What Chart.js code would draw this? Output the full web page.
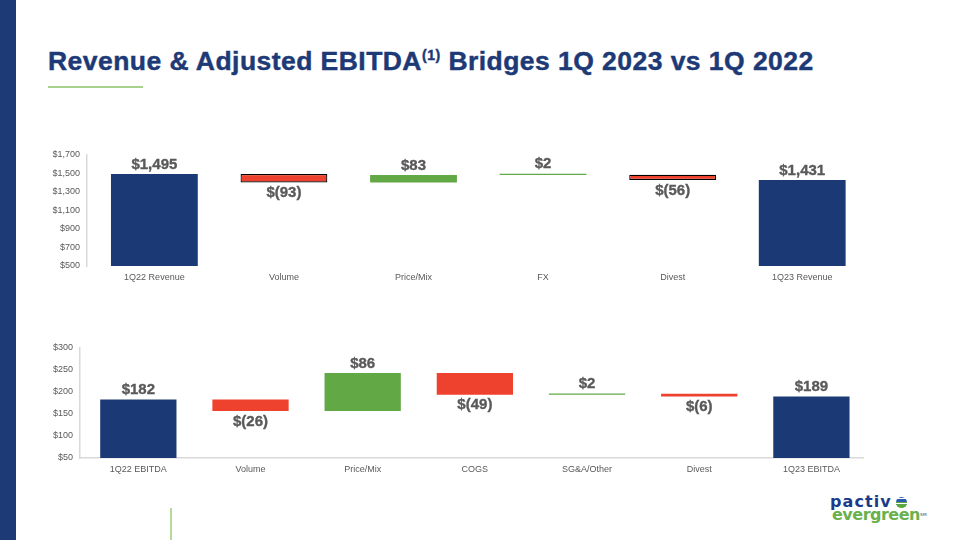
<!DOCTYPE html>
<html>
<head>
<meta charset="utf-8">
<script src="https://cdn.jsdelivr.net/npm/chart.js@4/dist/chart.umd.min.js"></script>
<style>
  html,body{margin:0;padding:0;background:#fff;}
  body{width:960px;height:540px;position:relative;overflow:hidden;font-family:"Liberation Sans",Arial,sans-serif;}
  #sidebar{position:absolute;left:0;top:0;width:16px;height:540px;background:#1d3a76;}
  #title{position:absolute;left:48px;top:46px;font-size:26.5px;font-weight:bold;color:#1d3a76;white-space:nowrap;letter-spacing:0.45px;-webkit-text-stroke:0.45px #1d3a76;}
  #title sup{font-size:14px;position:relative;top:2px;vertical-align:top;line-height:1;letter-spacing:0.5px;}
  #rule{position:absolute;left:48px;top:86px;width:95px;height:2px;background:#a9d18e;}
  #vline{position:absolute;left:170px;top:508px;width:1.5px;height:32px;background:#b8d99c;}
  #c1{position:absolute;left:20px;top:140px;}
  #c2{position:absolute;left:20px;top:335px;}
  .lg{position:absolute;font-family:"DejaVu Sans",sans-serif;font-weight:bold;font-size:16px;line-height:16px;white-space:nowrap;}
  #lp{left:830px;top:494px;color:#1d3a8a;letter-spacing:1.1px;}
  #le{left:832px;top:507px;color:#6ab04c;letter-spacing:-0.5px;}
  #le .tm{font-size:4px;vertical-align:top;letter-spacing:0;color:#888;}
  #licon{position:absolute;left:896px;top:497px;width:11px;height:11px;border-radius:50%;
    background:repeating-linear-gradient(180deg,#2a5bb0 0 1.4px,#fff 1.4px 2.2px);}
  #licon:after{content:"";position:absolute;left:0;top:5px;width:11px;height:6px;border-radius:0 0 6px 6px;
    background:repeating-linear-gradient(180deg,#5aa840 0 1.4px,#fff 1.4px 2.2px);}
</style>
</head>
<body>
<div id="sidebar"></div>
<div id="title">Revenue &amp; Adjusted EBITDA<sup>(1)</sup> Bridges 1Q 2023 vs 1Q 2022</div>
<div id="rule"></div>
<canvas id="c1" width="850" height="150"></canvas>
<canvas id="c2" width="850" height="150"></canvas>
<div id="vline"></div>
<div class="lg" id="lp">pactiv</div>
<div id="licon"></div>
<div class="lg" id="le">evergreen<span class="tm">SM</span></div>
<script>
// ---- Data ----
const revCategories = ['1Q22 Revenue', 'Volume', 'Price/Mix', 'FX', 'Divest', '1Q23 Revenue'];
const revValues = [1495, -93, 83, 2, -56, 1431];
const revIsTotal = [true, false, false, false, false, true];
const revTicks = [500, 700, 900, 1100, 1300, 1500, 1700];

const ebitdaCategories = ['1Q22 EBITDA', 'Volume', 'Price/Mix', 'COGS', 'SG&A/Other', 'Divest', '1Q23 EBITDA'];
const ebitdaValues = [182, -26, 86, -49, 2, -6, 189];
const ebitdaIsTotal = [true, false, false, false, false, false, true];
const ebitdaTicks = [50, 100, 150, 200, 250, 300];

// ---- Style ----
const BLUE = '#1b3a75', RED = '#ee412e', GREEN = '#62a844', GREY = '#595959', AXIS = '#d9d9d9';

function buildFloating(values, isTotal, base) {
  let run = 0;
  return values.map((v, i) => {
    if (isTotal[i]) { run = v; return [base, v]; }
    const s = run; run += v; return [s, run];
  });
}
function colorsFor(values, isTotal) {
  return values.map((v, i) => isTotal[i] ? BLUE : (v < 0 ? RED : GREEN));
}
function fmt(v) {
  const s = Math.abs(v).toLocaleString('en-US');
  return v < 0 ? '$(' + s + ')' : '$' + s;
}

const labelPlugin = {
  id: 'wfLabels',
  afterDatasetsDraw(chart) {
    const ctx = chart.ctx;
    const vals = chart.options.plugins.wfLabels.values;
    const meta = chart.getDatasetMeta(0);
    ctx.save();
    ctx.font = 'bold 15px "Liberation Sans", Arial, sans-serif';
    ctx.fillStyle = GREY;
    ctx.strokeStyle = GREY;
    ctx.lineWidth = 0.35;
    ctx.textAlign = 'center';
    meta.data.forEach((bar, i) => {
      const v = vals[i];
      const top = Math.min(bar.y, bar.base), bot = Math.max(bar.y, bar.base);
      if (v < 0) { ctx.textBaseline = 'top'; ctx.fillText(fmt(v), bar.x, bot + 3); ctx.strokeText(fmt(v), bar.x, bot + 3); }
      else { ctx.textBaseline = 'bottom'; ctx.fillText(fmt(v), bar.x, top - 2); ctx.strokeText(fmt(v), bar.x, top - 2); }
    });
    ctx.restore();
  }
};

function makeChart(id, cats, values, isTotal, ticks, opts) {
  const data = buildFloating(values, isTotal, ticks[0]);
  return new Chart(document.getElementById(id), {
    type: 'bar',
    data: {
      labels: cats,
      datasets: [{
        data: data,
        backgroundColor: colorsFor(values, isTotal),
        borderColor: '#000',
        borderWidth: opts.borders,
        borderSkipped: false,
        barPercentage: opts.barPct,
        categoryPercentage: 1,
        minBarLength: 1.2
      }]
    },
    options: {
      responsive: false,
      animation: false,
      devicePixelRatio: 1,
      layout: { padding: { top: opts.padTop, right: opts.padRight, left: 0, bottom: 0 } },
      plugins: { legend: { display: false }, tooltip: { enabled: false }, wfLabels: { values: values } },
      scales: {
        x: {
          grid: { display: false, drawTicks: false },
          border: { display: opts.xBorder, color: AXIS, width: 1.5 },
          ticks: { color: GREY, font: { family: '"Liberation Sans", Arial, sans-serif', size: 9 }, padding: 6, maxRotation: 0, autoSkip: false },
          afterFit(s) { s.height = opts.xHeight; },
          afterBuildTicks(s) {
            s._startValue = -opts.leftGap;
            s._valueRange = cats.length - 0.5 + opts.leftGap + opts.rightGap;
          }
        },
        y: {
          min: ticks[0], max: ticks[ticks.length - 1],
          afterBuildTicks(s) { s.ticks = ticks.map(v => ({ value: v })); },
          grid: { display: false, drawTicks: false },
          border: { display: true, color: AXIS, width: 1.5 },
          ticks: { color: GREY, font: { family: '"Liberation Sans", Arial, sans-serif', size: 9 }, padding: 7, callback: v => '$' + Number(v).toLocaleString('en-US') },
          afterFit(s) { s.width = opts.yWidth; }
        }
      }
    },
    plugins: [labelPlugin]
  });
}

makeChart('c1', revCategories, revValues, revIsTotal, revTicks,
  { padTop: 15, padRight: 3, xHeight: 24, yWidth: 67, xBorder: false, barPct: 0.67, leftGap: 0.52, rightGap: 0, borders: [0, 1.2, 0, 0, 1.2, 0] });
makeChart('c2', ebitdaCategories, ebitdaValues, ebitdaIsTotal, ebitdaTicks,
  { padTop: 12, padRight: 7, xHeight: 27, yWidth: 60, xBorder: true, barPct: 0.68, leftGap: 0.52, rightGap: -0.04, borders: 0 });
</script>
</body>
</html>
